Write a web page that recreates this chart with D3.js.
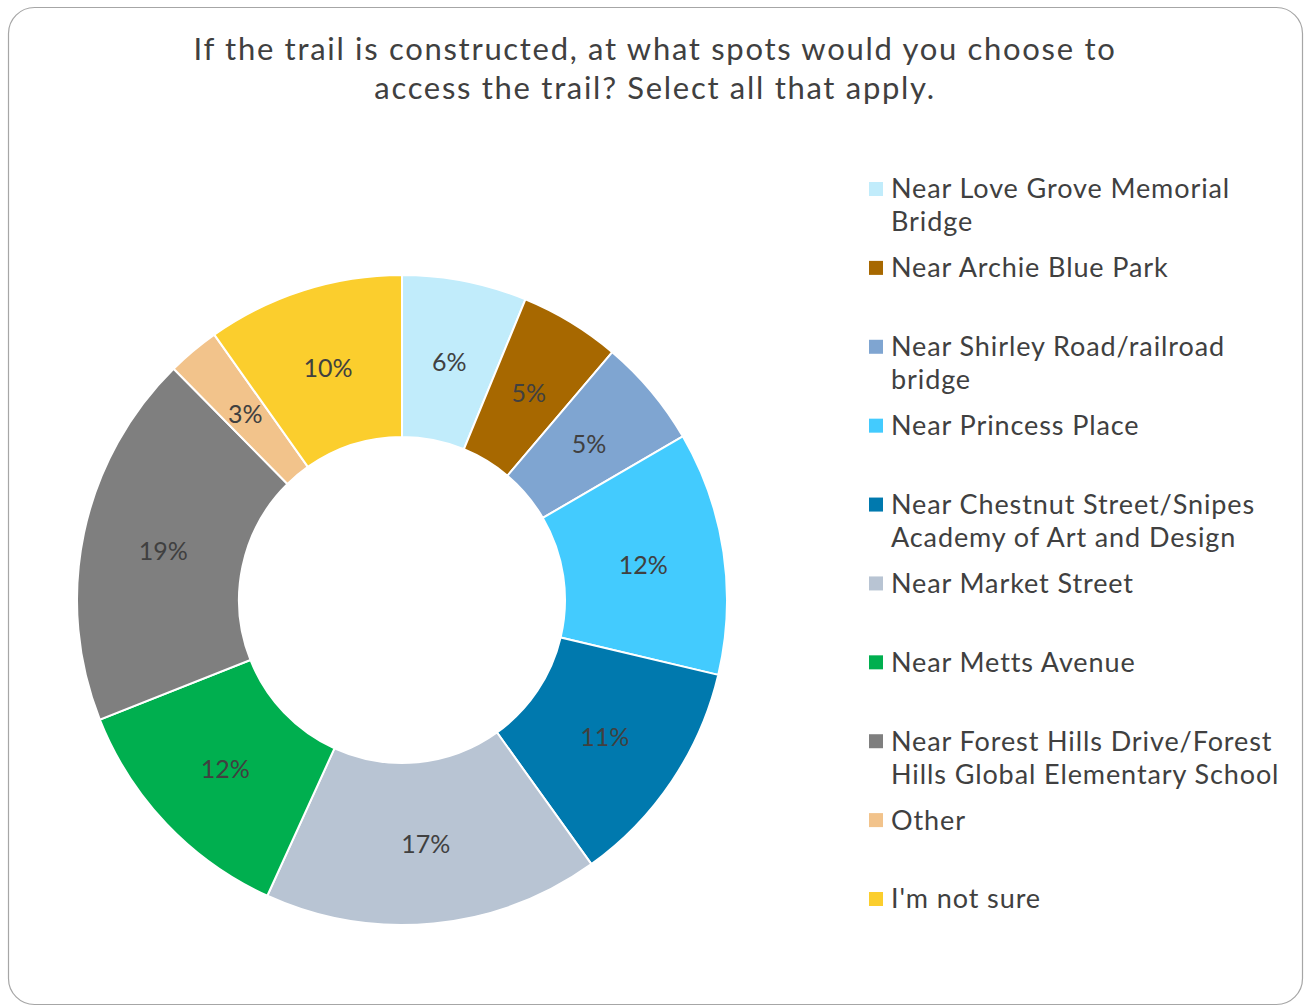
<!DOCTYPE html>
<html>
<head>
<meta charset="utf-8">
<script src="https://cdn.jsdelivr.net/npm/d3@7"></script>
<style>
  html, body { margin: 0; padding: 0; background: #fff; }
  svg { display: block; }
</style>
</head>
<body>
<svg id="chart" width="1304" height="1007"></svg>
<script>
// Survey responses: share of respondents choosing each trail access spot (%)
const categories = [
  "Near Love Grove Memorial Bridge",
  "Near Archie Blue Park",
  "Near Shirley Road/railroad bridge",
  "Near Princess Place",
  "Near Chestnut Street/Snipes Academy of Art and Design",
  "Near Market Street",
  "Near Metts Avenue",
  "Near Forest Hills Drive/Forest Hills Global Elementary School",
  "Other",
  "I'm not sure"
];
const values = [6.2, 5.0, 5.4, 12.1, 11.4, 16.7, 12.2, 18.6, 2.6, 9.8];
const colors = ["#C1ECFB", "#A76800", "#7FA5D1", "#43CBFE", "#0079AE",
                "#B8C4D3", "#00AF4F", "#7F7F7F", "#F2C38B", "#FBCE2D"];
// Legend text split into the lines it is drawn on
const legendLines = [
  ["Near Love Grove Memorial", "Bridge"],
  ["Near Archie Blue Park"],
  ["Near Shirley Road/railroad", "bridge"],
  ["Near Princess Place"],
  ["Near Chestnut Street/Snipes", "Academy of Art and Design"],
  ["Near Market Street"],
  ["Near Metts Avenue"],
  ["Near Forest Hills Drive/Forest", "Hills Global Elementary School"],
  ["Other"],
  ["I'm not sure"]
];
const titleLines = [
  "If the trail is constructed, at what spots would you choose to",
  "access the trail? Select all that apply."
];

const svg = d3.select("#chart");
const textFont = "'Lato', 'Noto Sans', sans-serif";

// Frame
svg.append("rect")
  .attr("x", 8.5).attr("y", 7.5)
  .attr("width", 1294).attr("height", 997)
  .attr("rx", 26).attr("ry", 26)
  .attr("fill", "#fff")
  .attr("stroke", "#A6A6A6")
  .attr("stroke-width", 1.2);

// Title
svg.append("text")
  .attr("x", 655).attr("y", 60)
  .attr("text-anchor", "middle")
  .attr("font-family", textFont)
  .attr("font-size", 31)
  .attr("letter-spacing", 1.7)
  .attr("fill", "#404040")
  .selectAll("tspan")
  .data(titleLines)
  .join("tspan")
  .attr("x", 655)
  .attr("dy", (d, i) => i === 0 ? 0 : 39)
  .text(d => d);

// Donut
const cx = 402, cy = 600, outerR = 325, innerR = 163;
const total = d3.sum(values);
const pie = d3.pie().sort(null).value(d => d.value);
const arcs = pie(categories.map((c, i) => ({ name: c, value: values[i], color: colors[i] })));
const arc = d3.arc().innerRadius(innerR).outerRadius(outerR);
const labelArc = d3.arc().innerRadius(244).outerRadius(244);

const g = svg.append("g").attr("transform", `translate(${cx},${cy})`);
g.selectAll("path.slice")
  .data(arcs)
  .join("path")
  .attr("class", "slice")
  .attr("d", arc)
  .attr("fill", d => d.data.color)
  .attr("stroke", "#fff")
  .attr("stroke-width", 2);

const pct = v => Math.round(v / total * 100) + "%";
g.selectAll("text.lbl")
  .data(arcs)
  .join("text")
  .attr("class", "lbl")
  .attr("transform", d => `translate(${labelArc.centroid(d)})`)
  .attr("text-anchor", "middle")
  .attr("dominant-baseline", "central")
  .attr("font-family", "'Lato', sans-serif")
  .attr("font-size", 25)
  .attr("fill", "#404040")
  .text(d => pct(d.data.value));

// Legend
const legendY = d3.scaleLinear().domain([0, categories.length - 1]).range([189, 899]);
const leg = svg.append("g");
const item = leg.selectAll("g.item")
  .data(categories.map((c, i) => ({ lines: legendLines[i], color: colors[i], i })))
  .join("g")
  .attr("class", "item")
  .attr("transform", d => `translate(869,${legendY(d.i)})`);
item.append("rect")
  .attr("x", 0).attr("y", -7)
  .attr("width", 14).attr("height", 14)
  .attr("fill", d => d.color);
item.append("text")
  .attr("font-family", textFont)
  .attr("font-size", 27)
  .attr("letter-spacing", 0.9)
  .attr("fill", "#404040")
  .selectAll("tspan")
  .data(d => d.lines)
  .join("tspan")
  .attr("x", 22)
  .attr("y", (d, i) => i * 33)
  .attr("dy", "0.35em")
  .text(d => d);
</script>
</body>
</html>
